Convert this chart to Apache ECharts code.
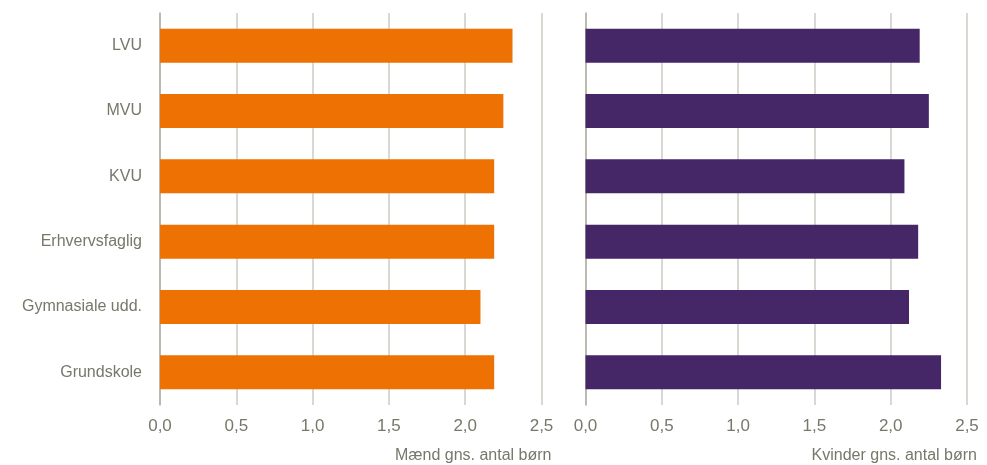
<!DOCTYPE html>
<html>
<head>
<meta charset="utf-8">
<script src="https://cdn.jsdelivr.net/npm/echarts@6/dist/echarts.min.js"></script>
<style>html,body{margin:0;padding:0;background:#fff;}#c{width:987px;height:465px;}</style>
</head>
<body>
<div id="c"></div>
<script>
var categories = ['LVU', 'MVU', 'KVU', 'Erhvervsfaglig', 'Gymnasiale udd.', 'Grundskole'];
var maend = [2.31, 2.25, 2.19, 2.19, 2.10, 2.19];
var kvinder = [2.19, 2.25, 2.09, 2.18, 2.12, 2.33];
var tickMin = 0, tickMax = 2.5, tickStep = 0.5;
var axisNames = ['Mænd gns. antal børn', 'Kvinder gns. antal børn'];

var FONT = '"Liberation Sans", Arial, sans-serif';
var FS = 16;
var TXT = '#77776a';
var chart = echarts.init(document.getElementById('c'), null, {renderer: 'canvas'});

function xAx(gi, name) {
  return {
    type: 'value', gridIndex: gi, min: tickMin, max: tickMax, interval: tickStep,
    axisLine: {show: false}, axisTick: {show: false},
    splitLine: {show: true, lineStyle: {color: '#cdcdc4', width: 1.5}},
    axisLabel: {color: TXT, fontFamily: FONT, fontSize: FS + 1, margin: 13,
      formatter: function (v) { return v.toFixed(1).replace('.', ','); }},
    name: name, nameLocation: 'end', nameGap: 10,
    nameTextStyle: {color: TXT, fontFamily: FONT, fontSize: FS, align: 'right', verticalAlign: 'top', padding: [43, 0, 0, 0]}
  };
}
function yAx(gi, showLabels) {
  return {
    type: 'category', gridIndex: gi, data: categories, inverse: true,
    axisLine: {show: true, lineStyle: {color: '#b3afa2', width: 1.5}},
    axisTick: {show: false},
    axisLabel: {show: showLabels, color: TXT, fontFamily: FONT, fontSize: FS, margin: 18},
    splitLine: {show: false}
  };
}

chart.setOption({
  animation: false,
  grid: [
    {left: 160, top: 13, width: 381.5, height: 392, containLabel: false},
    {left: 585.5, top: 13, width: 381.5, height: 392, containLabel: false}
  ],
  xAxis: [xAx(0, axisNames[0]), xAx(1, axisNames[1])],
  yAxis: [yAx(0, true), yAx(1, false)],
  series: [
    {type: 'bar', xAxisIndex: 0, yAxisIndex: 0, data: maend, barWidth: 34,
     itemStyle: {color: '#ee7203'}},
    {type: 'bar', xAxisIndex: 1, yAxisIndex: 1, data: kvinder, barWidth: 34,
     itemStyle: {color: '#452667'}}
  ]
});
</script>
</body>
</html>
